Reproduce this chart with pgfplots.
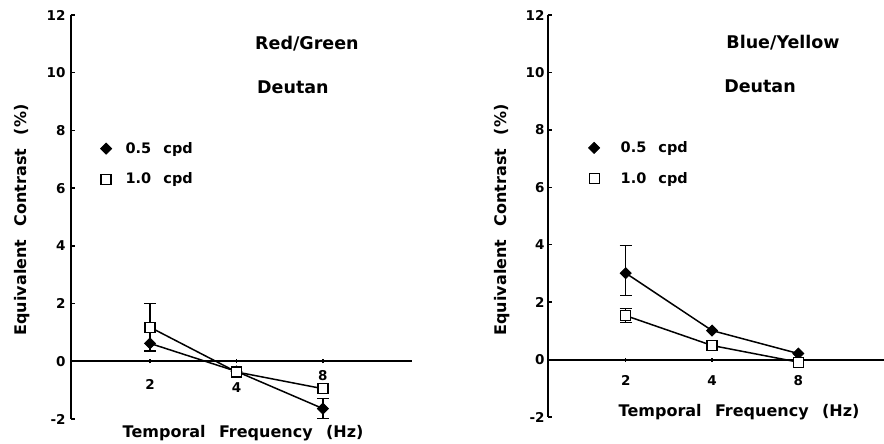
\documentclass[border=0pt]{standalone}
\usepackage{fontspec}
\setmainfont{DejaVu Sans}
\newfontfamily\dv{DejaVu Sans}[WordSpace=2.4]
\usepackage{pgfplots}
\pgfplotsset{compat=1.18}
\newcommand\titfont{\dv\bfseries\fontsize{17.5}{20}\selectfont}
\newcommand\labfont{\dv\bfseries\fontsize{16}{19}\selectfont}
\newcommand\legfont{\dv\bfseries\fontsize{14.5}{17}\selectfont}
\newcommand\ticfont{\dv\bfseries\fontsize{13.5}{15}\selectfont}
\pgfplotsset{
  panel/.style={
    scale only axis,
    axis x line*=middle,
    axis y line*=left,
    ymin=-2, ymax=12,
    ytick={-2,0,2,4,6,8,10,12},
    xtick={1,2,3},
    ytick align=inside,
    xtick align=center,
    major tick length=4pt,
    every tick/.style={black, line width=1.3pt},
    axis line style={line width=2pt, black},
    clip=false,
    /pgf/number format/assume math mode=true,
    yticklabel={\mbox{\ticfont\pgfmathprintnumber[assume math mode=true]{\tick}}},
    yticklabel style={anchor=east, inner sep=0pt, xshift=-5pt},
    xticklabel style={anchor=base, inner sep=0pt, yshift=-26pt},
    legend style={draw=none, fill=none, font=\legfont, inner sep=0pt,
      row sep=18pt, nodes={inner sep=0pt},
      /tikz/every odd column/.append style={column sep=14pt}},
    legend cell align=left,
    legend image code/.code={\draw[##1] plot coordinates {(0pt,0pt)};},
    every axis plot/.append style={line width=1.5pt, black},
  },
  dmd/.style={mark=square*, mark size=3.9pt, mark options={rotate=45, fill=black, line width=0.8pt}},
  sqr/.style={mark=square*, mark size=5pt, mark options={fill=white, line width=1.3pt}},
  eb/.style={draw=none, mark=none, forget plot,
    error bars/.cd, y dir=both, y explicit,
    error bar style={line width=1.3pt, black},
    error mark options={rotate=90, mark size=6pt, line width=1.3pt, black}},
}
\begin{document}
\begin{tikzpicture}
\path[use as bounding box] (0,0) rectangle (884pt,444pt);
% ---------------- left panel
\begin{axis}[panel,
  at={(70.7pt,25pt)}, anchor=south west,
  width=341.3pt, height=404pt,
  xmin=0.083, xmax=4.03,
  xticklabels={{\mbox{\ticfont 2}},{\mbox{\ticfont\raisebox{-3pt}{4}}},{\mbox{\ticfont\raisebox{9pt}{8}}}},
  xlabel={Temporal Frequency (Hz)},
  ylabel={Equivalent Contrast (\%)},
  every axis x label/.style={at={(rel axis cs:0.505,-0.035)}, anchor=center, font=\labfont},
  every axis y label/.style={at={(rel axis cs:-0.1427,0.4926)}, rotate=90, anchor=center, font=\labfont},
  legend style={at={(axis cs:0.4266,6.84)}, anchor=west},
]
\addplot[eb] coordinates {(1,1.18) +- (0,0.82)};
\addplot[eb] coordinates {(3,-1.64) +- (0,0.35)};
\addplot[dmd] coordinates {(1,0.62) (2,-0.35) (3,-1.64)};
\addlegendentry{0.5 cpd}
\addplot[sqr] coordinates {(1,1.18) (2,-0.37) (3,-0.95)};
\addlegendentry{1.0 cpd}
\node[font=\titfont] at (axis cs:2.815,11.02) {Red/Green};
\node[font=\titfont] at (axis cs:2.653,9.50) {Deutan};
\end{axis}
% ---------------- right panel
\begin{axis}[panel,
  at={(547.7pt,27pt)}, anchor=south west,
  width=336.3pt, height=402pt,
  xmin=0.096, xmax=3.993,
  xticklabels={{\mbox{\ticfont 2}},{\mbox{\ticfont 4}},{\mbox{\ticfont 8}}},
  xticklabel style={yshift=2pt},
  yticklabel style={xshift=2pt},
  xlabel={Temporal Frequency (Hz)},
  ylabel={Equivalent Contrast (\%)},
  every axis x label/.style={at={(rel axis cs:0.569,0.0124)}, anchor=center, font=\labfont},
  every axis y label/.style={at={(rel axis cs:-0.1368,0.49)}, rotate=90, anchor=center, font=\labfont},
  legend style={at={(axis cs:0.568,6.84)}, anchor=west,
    /tikz/every odd column/.append style={column sep=21pt}},
]
\addplot[eb] coordinates {(1,3.01) += (0,0.96) -= (0,0.77)};
\addplot[eb] coordinates {(1,1.53) +- (0,0.24)};
\addplot[dmd] coordinates {(1,3.01) (2,1.01) (3,0.21)};
\addlegendentry{0.5 cpd}
\addplot[sqr] coordinates {(1,1.53) (2,0.49) (3,-0.09)};
\addlegendentry{1.0 cpd}
\node[font=\titfont] at (axis cs:2.823,11.04) {Blue/Yellow};
\node[font=\titfont] at (axis cs:2.556,9.51) {Deutan};
\end{axis}
\end{tikzpicture}
\end{document}
